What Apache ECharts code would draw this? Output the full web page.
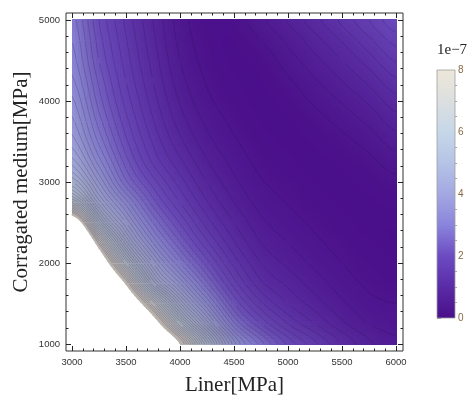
<!DOCTYPE html>
<html><head><meta charset="utf-8">
<script src="https://cdn.jsdelivr.net/npm/echarts@6/dist/echarts.min.js"></script>
<style>html,body{margin:0;padding:0;background:#fff}#c{width:470px;height:396px}</style>
</head><body><div id="c"></div>
<script>
// ---- data (values in units of 1e-7), grid ----
const linerMPa  = [3000, 3250, 3500, 3750, 4000, 4250, 4500, 4750, 5000, 5250, 5500, 5750, 6000];
const mediumMPa = [1000, 1250, 1500, 1750, 2000, 2250, 2500, 2750, 3000, 3250, 3500, 3750, 4000, 4250, 4500, 4750, 5000];
// one row per corrugated-medium value, columns follow linerMPa
const z1000 = [24, 16.5, 13, 10.4, 8.0, 5.6, 3.7, 2.7, 1.95, 1.45, 1.0, 0.65, 0.45];
const z1250 = [21.5, 14.7, 11.3, 8.7, 6.2, 4.35, 2.85, 2.0, 1.4, 1.0, 0.65, 0.4, 0.3];
const z1500 = [19, 12.9, 9.6, 7.0, 4.85, 3.4, 2.2, 1.45, 1.0, 0.7, 0.44, 0.26, 0.2];
const z1750 = [16.5, 11.1, 7.9, 5.2, 3.8, 2.65, 1.7, 1.05, 0.75, 0.5, 0.3, 0.16, 0.1];
const z2000 = [14, 9.3, 6.2, 4.2, 3.0, 2.1, 1.33, 0.8, 0.55, 0.35, 0.2, 0.1, 0.04];
const z2250 = [11.5, 7.5, 4.9, 3.4, 2.42, 1.65, 1.03, 0.6, 0.4, 0.24, 0.13, 0.05, 0.01];
const z2500 = [9.0, 5.7, 4.0, 2.8, 1.98, 1.3, 0.8, 0.45, 0.28, 0.16, 0.07, 0.02, 0.02];
const z2750 = [6.3, 4.5, 3.3, 2.3, 1.6, 1.02, 0.6, 0.32, 0.19, 0.09, 0.03, 0.03, 0.06];
const z3000 = [5.0, 3.8, 2.65, 1.9, 1.3, 0.8, 0.45, 0.22, 0.12, 0.04, 0.02, 0.07, 0.15];
const z3250 = [4.3, 3.3, 2.3, 1.56, 1.05, 0.62, 0.33, 0.14, 0.06, 0.02, 0.06, 0.15, 0.3];
const z3500 = [3.9, 2.95, 2.05, 1.37, 0.85, 0.47, 0.23, 0.08, 0.03, 0.05, 0.14, 0.28, 0.5];
const z3750 = [3.65, 2.7, 1.87, 1.22, 0.7, 0.35, 0.15, 0.04, 0.03, 0.12, 0.27, 0.45, 0.7];
const z4000 = [3.45, 2.5, 1.72, 1.1, 0.58, 0.25, 0.09, 0.02, 0.08, 0.24, 0.42, 0.64, 0.92];
const z4250 = [3.25, 2.35, 1.6, 1.0, 0.48, 0.18, 0.05, 0.03, 0.17, 0.38, 0.6, 0.86, 1.16];
const z4500 = [3.1, 2.2, 1.5, 0.92, 0.4, 0.13, 0.03, 0.08, 0.3, 0.54, 0.8, 1.1, 1.42];
const z4750 = [3.0, 2.1, 1.42, 0.85, 0.34, 0.1, 0.04, 0.2, 0.45, 0.72, 1.02, 1.35, 1.68];
const z5000 = [2.9, 2.0, 1.35, 0.8, 0.3, 0.08, 0.1, 0.35, 0.62, 0.93, 1.25, 1.6, 1.95];

const xTickValues = [3000, 3500, 4000, 4500, 5000, 5500, 6000];
const yTickValues = [1000, 2000, 3000, 4000, 5000];
const barTickValues = [0, 2, 4, 6, 8];
const barMinorValues = [0.5, 1, 1.5, 2.5, 3, 3.5, 4.5, 5, 5.5, 6.5, 7, 7.5];
const plotMax = 8;          // plot range top (1e-7)
const contourStep = 0.2;

// colour scale (value -> colour)
const colorValues = [0, 1, 2, 3, 4, 5, 6, 7, 8];
const colorHex = ['#4a0e8a', '#5a2ba6', '#6c4bc2', '#8a84dc', '#a3a8e2', '#b5c3e6', '#c6d7e8', '#dcdfe0', '#ede7d8'];

// ---- helpers ----
const zRows = [z1000, z1250, z1500, z1750, z2000, z2250, z2500, z2750, z3000, z3250, z3500, z3750, z4000, z4250, z4500, z4750, z5000];
const NI = linerMPa.length, NJ = mediumMPa.length;
function hexRgb(h){return [parseInt(h.slice(1,3),16),parseInt(h.slice(3,5),16),parseInt(h.slice(5,7),16)];}
const colorRgb = colorHex.map(hexRgb);
const lineShade = [62, 52, 58];
function colorAt(v, dk){
  v = Math.max(colorValues[0], Math.min(colorValues[colorValues.length-1], v));
  let k = 0;
  while (k < colorValues.length-2 && v > colorValues[k+1]) k++;
  const t = (v - colorValues[k]) / (colorValues[k+1] - colorValues[k]);
  const a = colorRgb[k], b = colorRgb[k+1];
  const c = [0,1,2].map(n => (a[n]+(b[n]-a[n])*t)*(1-dk) + lineShade[n]*dk);
  return 'rgb(' + Math.round(c[0]) + ',' + Math.round(c[1]) + ',' + Math.round(c[2]) + ')';
}
function cr(p0,p1,p2,p3,t){
  return 0.5*((2*p1) + (-p0+p2)*t + (2*p0-5*p1+4*p2-p3)*t*t + (-p0+3*p1-3*p2+p3)*t*t*t);
}
function cl(k,n){return Math.max(0,Math.min(n-1,k));}
function sampleGrid(fi, fj){
  const i0 = Math.min(Math.floor(fi), NI-2), ti = fi - i0;
  const j0 = Math.min(Math.floor(fj), NJ-2), tj = fj - j0;
  const col = [];
  for (let dj=-1; dj<=2; dj++){
    const r = zRows[cl(j0+dj,NJ)];
    col.push(cr(r[cl(i0-1,NI)], r[cl(i0,NI)], r[cl(i0+1,NI)], r[cl(i0+2,NI)], ti));
  }
  return cr(col[0],col[1],col[2],col[3],tj);
}
function lerpAxis(arr, f){
  const k = Math.min(Math.floor(f), arr.length-2);
  return arr[k] + (f-k)*(arr[k+1]-arr[k]);
}

const NX = 9, NY = 7;
function renderCell(params, api){
  const i = api.value(2), j = api.value(3);
  const P = [], V = [];
  for (let a=0; a<=NX; a++){
    P[a]=[]; V[a]=[];
    for (let b=0; b<=NY; b++){
      const fi = i + a/NX, fj = j + b/NY;
      P[a][b] = api.coord([lerpAxis(linerMPa, fi), lerpAxis(mediumMPa, fj)]);
      V[a][b] = sampleGrid(fi, fj);
    }
  }
  const children = [];
  let path = '';
  for (let a=0; a<NX; a++){
    for (let b=0; b<NY; b++){
      const p = [P[a][b], P[a+1][b], P[a+1][b+1], P[a][b+1]];
      const v = [V[a][b], V[a+1][b], V[a+1][b+1], V[a][b+1]];
      const inside = v.map(x => x <= plotMax);
      const nIn = inside.filter(Boolean).length;
      if (nIn === 0) continue;
      const vc = Math.max(0, (v[0]+v[1]+v[2]+v[3])/4);
      // density of the (many, thin) contour lines darkens the fill
      const dxp = Math.abs(p[1][0]-p[0][0]) || 1, dyp = Math.abs(p[3][1]-p[0][1]) || 1;
      const gx = ((v[1]+v[2])-(v[0]+v[3]))/2/dxp, gy = ((v[3]+v[2])-(v[0]+v[1]))/2/dyp;
      const g = Math.sqrt(gx*gx+gy*gy);
      const dk = Math.min(0.3, g*3.0);
      const fill = colorAt(Math.min(vc, plotMax), dk);
      if (nIn === 4){
        const xa = Math.floor(Math.min(p[0][0], p[2][0])), xb = Math.ceil(Math.max(p[0][0], p[2][0]));
        const ya = Math.floor(Math.min(p[0][1], p[2][1])), yb = Math.ceil(Math.max(p[0][1], p[2][1]));
        children.push({type:'rect', shape:{x:xa, y:ya, width:xb-xa, height:yb-ya}, style:{fill:fill}});
      } else {
        const poly = [];
        for (let k=0; k<4; k++){
          const k2 = (k+1)%4;
          if (inside[k]) poly.push(p[k]);
          if (inside[k] !== inside[k2]){
            const t = (plotMax - v[k])/(v[k2]-v[k]);
            poly.push([p[k][0]+t*(p[k2][0]-p[k][0]), p[k][1]+t*(p[k2][1]-p[k][1])]);
          }
        }
        children.push({type:'polygon', shape:{points:poly}, style:{fill:fill, stroke:fill, lineWidth:0.7}});
      }
      // contour lines
      const vmin = Math.min.apply(null, v), vmax = Math.min(Math.max.apply(null, v), plotMax);
      const k0 = Math.max(1, Math.ceil(vmin/contourStep)), k1 = Math.floor(vmax/contourStep);
      for (let k=k0; k<=k1; k++){
        const lev = k*contourStep;
        if (lev >= plotMax - 0.3) continue;
        const pts = [];
        for (let e=0; e<4; e++){
          const e2 = (e+1)%4;
          if ((v[e]-lev)*(v[e2]-lev) < 0){
            const t = (lev - v[e])/(v[e2]-v[e]);
            pts.push([p[e][0]+t*(p[e2][0]-p[e][0]), p[e][1]+t*(p[e2][1]-p[e][1])]);
          }
        }
        for (let q=0; q+1<pts.length; q+=2){
          path += 'M'+pts[q][0].toFixed(2)+' '+pts[q][1].toFixed(2)+'L'+pts[q+1][0].toFixed(2)+' '+pts[q+1][1].toFixed(2);
        }
      }
    }
  }
  if (path) children.push({type:'path', shape:{pathData:path}, style:{fill:null, stroke:'rgba(35,15,60,0.36)', lineWidth:0.6}});
  return {type:'group', children:children};
}

const cellData = [];
for (let j=0; j<NJ-1; j++) for (let i=0; i<NI-1; i++) cellData.push([linerMPa[i], mediumMPa[j], i, j]);

function renderBar(params, api){
  const p0 = api.coord([0, colorValues[colorValues.length-1]]);
  const p1 = api.coord([1, colorValues[0]]);
  const vmax = colorValues[colorValues.length-1];
  const stops = colorValues.map((v,k)=>({offset: v/vmax, color: colorHex[k]}));
  return {type:'rect', shape:{x:p0[0], y:p0[1], width:p1[0]-p0[0], height:p1[1]-p0[1]},
    style:{fill:new echarts.graphic.LinearGradient(0,1,0,0,stops), stroke:'#a0a0a0', lineWidth:0.8}};
}

// ---- axes ----
const X_MIN = 2944.4, X_MAX = 6064.8, Y_MIN = 913.6, Y_MAX = 5086.4;
const xMinor = [], yMinor = [];
for (let x=3100; x<6000; x+=100) if (x%500) xMinor.push(x);
for (let y=1200; y<5000; y+=200) if (y%1000) yMinor.push(y);
const tickCol = '#222';
function ax(pos, minV, maxV, ticks, len, labels, extra){
  return Object.assign({gridIndex:0, type:'value', position:pos, min:minV, max:maxV,
    axisLine:{show:false}, splitLine:{show:false}, nameMoveOverlap:false,
    axisTick:{show:true, inside:true, length:len, customValues:ticks, lineStyle:{color:tickCol, width:1}},
    axisLabel: labels ? {show:true, customValues:labels, formatter:(v)=>String(v), color:'#333', fontSize:9.5, fontFamily:'Liberation Sans', margin:6} : {show:false}
  }, extra||{});
}

const chart = echarts.init(document.getElementById('c'), null, {renderer:'canvas'});
chart.setOption({
  animation:false,
  backgroundColor:'#ffffff',
  title:{text:'1e\u22127', left:432, top:38, textStyle:{fontFamily:'Liberation Serif', fontSize:15, fontWeight:'normal', color:'#222'}},
  grid:[
    {left:66, top:13, width:337, height:338, show:true, borderColor:'#333', borderWidth:1, backgroundColor:'transparent', outerBoundsMode:'none', containLabel:false},
    {left:437, top:70, width:18, height:248, outerBoundsMode:'none', containLabel:false}
  ],
  xAxis:[
    ax('bottom', X_MIN, X_MAX, xTickValues, 5, xTickValues,
      {name:'Liner[MPa]', nameLocation:'middle', nameGap:24, nameTextStyle:{fontFamily:'Liberation Serif', fontSize:21, color:'#222', verticalAlign:'top'}}),
    ax('bottom', X_MIN, X_MAX, xMinor, 2.5, null),
    ax('top', X_MIN, X_MAX, xTickValues, 5, null),
    ax('top', X_MIN, X_MAX, xMinor, 2.5, null),
    {gridIndex:1, type:'value', min:0, max:1, show:false}
  ],
  yAxis:[
    ax('left', Y_MIN, Y_MAX, yTickValues, 5, yTickValues,
      {name:'Corragated medium[MPa]', nameLocation:'middle', nameGap:34, nameTextStyle:{fontFamily:'Liberation Serif', fontSize:21, color:'#222'}}),
    ax('left', Y_MIN, Y_MAX, yMinor, 2.5, null),
    ax('right', Y_MIN, Y_MAX, yTickValues, 5, null),
    ax('right', Y_MIN, Y_MAX, yMinor, 2.5, null),
    {gridIndex:1, type:'value', position:'right', min:0, max:8,
      axisLine:{show:false}, splitLine:{show:false},
      axisTick:{show:true, inside:false, length:4, customValues:barTickValues, lineStyle:{color:'#999'}},
      axisLabel:{show:true, customValues:barTickValues, color:'#8a6a45', fontSize:10, fontFamily:'Liberation Sans', margin:3}},
    {gridIndex:1, type:'value', position:'right', min:0, max:8,
      axisLine:{show:false}, splitLine:{show:false},
      axisTick:{show:true, inside:false, length:2, customValues:barMinorValues, lineStyle:{color:'#aaa'}},
      axisLabel:{show:false}}
  ],
  series:[
    {type:'custom', xAxisIndex:0, yAxisIndex:0, renderItem:renderCell, data:cellData, encode:{x:0, y:1}, silent:true, clip:true, z:2},
    {type:'custom', xAxisIndex:4, yAxisIndex:4, renderItem:renderBar, data:[[0,0]], encode:{x:0,y:1}, silent:true, z:2}
  ]
});
</script></body></html>
